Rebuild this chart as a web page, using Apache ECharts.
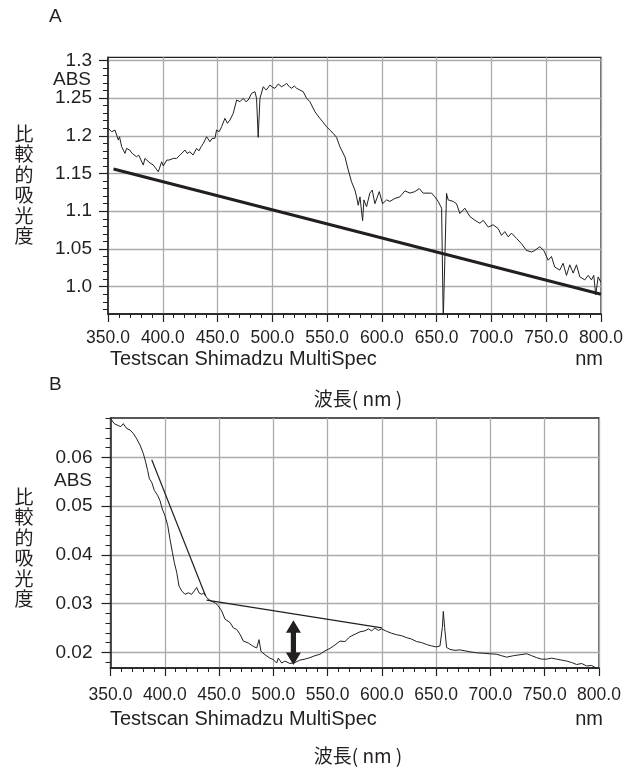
<!DOCTYPE html>
<html>
<head>
<meta charset="utf-8">
<script src="https://cdn.jsdelivr.net/npm/echarts@6/dist/echarts.min.js"></script>
<style>
html,body{margin:0;padding:0;background:#fff;}
#c{width:633px;height:767px;}
</style>
</head>
<body>
<div id="c"></div>
<script>
// ---------- Panel A data ----------
const aWl = [350.3,353.3,355.0,356.4,359.4,360.5,362.5,364.0,365.5,367.0,369.8,372.0,373.1,376.0,378.0,379.2,382.2,383.7,385.3,388.3,389.8,391.4,393.0,395.9,399.0,400.5,402.0,403.6,405.7,409.6,412.6,415.7,417.5,420.3,422.3,424.8,427.6,430.9,433.0,435.0,437.0,440.0,443.1,445.0,447.6,449.1,451.5,453.7,456.7,459.0,461.3,464.3,467.4,470.4,473.4,476.0,478.0,481.1,484.1,485.6,487.1,488.7,491.7,494.5,497.8,500.5,502.4,505.4,508.5,511.0,513.0,515.5,517.6,520.0,522.2,525.2,528.2,531.3,534.3,538.9,543.4,546.0,549.5,552.5,555.6,558.6,561.7,566.3,569.3,572.3,575.4,576.9,578.4,580.0,582.4,583.6,586.0,589.0,591.2,593.6,597.6,600.6,604.3,607.3,611.9,616.4,621.0,625.6,630.1,634.1,637.7,645.3,648.4,651.4,654.5,656.0,657.5,659.0,660.5,665.1,668.1,671.2,675.7,680.3,684.9,689.4,692.5,697.0,701.6,706.1,709.2,712.2,715.3,718.3,722.9,727.4,732.0,736.6,739.6,744.1,747.8,751.8,754.8,757.8,762.4,765.4,768.5,771.5,774.6,777.6,780.7,785.2,788.3,791.3,793.4,795.2,797.4,799.8];
const aAbs = [1.2098,1.2053,1.2076,1.2076,1.1943,1.1987,1.1854,1.1810,1.1767,1.1833,1.1810,1.1767,1.1780,1.1722,1.1744,1.1722,1.1612,1.1700,1.1680,1.1640,1.1660,1.1612,1.1589,1.1523,1.1655,1.1600,1.1589,1.1678,1.1678,1.1700,1.1700,1.1744,1.1722,1.1811,1.1766,1.1788,1.1744,1.1833,1.1800,1.1855,1.1899,1.1987,1.1921,1.1966,1.1966,1.2076,1.2054,1.2120,1.2231,1.2165,1.2208,1.2297,1.2474,1.2451,1.2496,1.2451,1.2474,1.2562,1.2584,1.2496,1.1979,1.2496,1.2650,1.2606,1.2672,1.2640,1.2629,1.2686,1.2650,1.2672,1.2695,1.2650,1.2629,1.2660,1.2629,1.2606,1.2584,1.2496,1.2451,1.2318,1.2231,1.2186,1.2120,1.2076,1.2032,1.1979,1.1854,1.1720,1.1546,1.1390,1.1280,1.1190,1.1080,1.1190,1.0874,1.1150,1.1060,1.1240,1.1280,1.1100,1.1260,1.1100,1.1150,1.1130,1.1170,1.1190,1.1270,1.1240,1.1260,1.1300,1.1240,1.1240,1.1190,1.1130,1.1040,0.9550,0.9550,1.1236,1.1150,1.1130,1.1100,1.0970,1.1040,1.0930,1.0880,1.0840,1.0880,1.0790,1.0820,1.0770,1.0680,1.0730,1.0660,1.0710,1.0640,1.0570,1.0480,1.0460,1.0480,1.0530,1.0480,1.0350,1.0400,1.0260,1.0220,1.0310,1.0150,1.0290,1.0180,1.0290,1.0130,1.0090,1.0150,1.0090,1.0150,0.9890,1.0130,1.0060];
const aBaseWl = [355, 800];
const aBaseAbs = [1.156, 0.990];
const aYMajor = [1.0, 1.05, 1.1, 1.15, 1.2, 1.25, 1.3];
const aYMinor = [0.97,0.98,0.99,1.0,1.01,1.02,1.03,1.04,1.05,1.06,1.07,1.08,1.09,1.1,1.11,1.12,1.13,1.14,1.15,1.16,1.17,1.18,1.19,1.2,1.21,1.22,1.23,1.24,1.25,1.26,1.27,1.28,1.29,1.3];

// ---------- Panel B data ----------
const bWl = [350.5,353.5,357.2,359.5,361.8,364.9,368.0,371.0,374.1,377.2,380.2,382.4,384.2,385.8,387.9,390.4,393.4,395.6,397.7,400.2,402.7,404.8,407.0,408.8,411.0,413.1,415.6,418.6,421.7,424.8,427.2,429.4,431.5,434.0,436.4,438.6,442.6,446.3,449.3,452.4,455.5,460.1,463.2,466.2,469.3,472.4,477.0,481.6,484.7,486.8,488.6,492.3,496.9,500.0,503.1,504.6,507.7,510.7,515.3,519.9,524.5,529.1,533.7,538.3,542.9,547.6,552.2,556.8,561.4,566.0,570.6,575.2,579.8,584.4,587.5,590.6,593.6,596.7,599.8,604.4,609.0,613.6,618.2,622.8,627.4,632.0,636.6,641.2,645.8,650.4,653.5,655.7,656.6,657.8,659.6,662.7,667.3,671.9,676.5,681.1,687.3,693.4,699.6,705.7,710.3,714.9,721.1,727.2,733.4,738.0,742.6,747.2,751.8,756.4,761.0,765.6,770.2,774.8,779.4,784.0,788.6,793.2,797.8,800.0];
const bAbs = [0.0678,0.0669,0.0665,0.0663,0.0669,0.0659,0.0656,0.0649,0.0638,0.0625,0.0608,0.0590,0.0573,0.0556,0.0549,0.0532,0.0522,0.0511,0.0494,0.0480,0.0460,0.0432,0.0405,0.0384,0.0364,0.0336,0.0326,0.0319,0.0322,0.0319,0.0326,0.0333,0.0322,0.0319,0.0322,0.0312,0.0305,0.0302,0.0295,0.0285,0.0268,0.0261,0.0250,0.0247,0.0237,0.0223,0.0219,0.0212,0.0209,0.0226,0.0202,0.0195,0.0188,0.0185,0.0178,0.0188,0.0178,0.0182,0.0177,0.0179,0.0184,0.0186,0.0189,0.0193,0.0196,0.0203,0.0208,0.0215,0.0223,0.0222,0.0232,0.0237,0.0242,0.0244,0.0248,0.0244,0.0250,0.0245,0.0248,0.0243,0.0239,0.0236,0.0234,0.0230,0.0227,0.0222,0.0220,0.0216,0.0213,0.0211,0.0213,0.0251,0.0284,0.0251,0.0210,0.0206,0.0204,0.0205,0.0203,0.0201,0.0199,0.0198,0.0197,0.0196,0.0193,0.0190,0.0193,0.0195,0.0197,0.0193,0.0189,0.0186,0.0186,0.0188,0.0186,0.0184,0.0182,0.0179,0.0175,0.0177,0.0172,0.0173,0.0167,0.0165];
const bTan1Wl = [388, 437.5];
const bTan1Abs = [0.0595, 0.0316];
const bTan2Wl = [438.5, 600];
const bTan2Abs = [0.0307, 0.0250];
const bArrowWl = [518.5];
const bArrowTop = [0.0266];
const bArrowBot = [0.0174];
const bYMajor = [0.02, 0.03, 0.04, 0.05, 0.06];
const bYMinor = [0.018,0.02,0.022,0.024,0.026,0.028,0.03,0.032,0.034,0.036,0.038,0.04,0.042,0.044,0.046,0.048,0.05,0.052,0.054,0.056,0.058,0.06,0.062,0.064,0.066,0.068];

const xTicks = [350, 400, 450, 500, 550, 600, 650, 700, 750, 800];

// ---------- helpers ----------
const INK = '#231f20';
const GRIDC = '#ababab';
const zip = (a, b) => a.map((v, i) => [v, b[i]]);

function xAxisFor(gridIndex, margin) {
  return {
    type: 'value', gridIndex, min: xTicks[0], max: xTicks[xTicks.length - 1], interval: 50,
    axisLine: { show: true, onZero: false, lineStyle: { color: INK, width: 1.5 } },
    axisTick: { show: true, length: 8, lineStyle: { color: INK, width: 1.2 } },
    minorTick: { show: true, splitNumber: 5, length: 4, lineStyle: { color: INK, width: 1 } },
    axisLabel: {
      margin, color: INK, fontSize: 17.5,
      fontFamily: '"Liberation Sans", Arial, sans-serif',
      formatter: v => v.toFixed(1)
    },
    splitLine: { show: true, lineStyle: { color: GRIDC, width: 1.3 } },
    minorSplitLine: { show: false }
  };
}

function yMain(gridIndex, min, max, major, fmt, margin, splitNumber) {
  return {
    type: 'value', gridIndex, min, max, position: 'left', splitNumber,
    axisLine: { show: true, onZero: false, lineStyle: { color: INK, width: 1.5 } },
    axisTick: { show: true, length: 9, customValues: major, lineStyle: { color: INK, width: 1.2 } },
    axisLabel: {
      customValues: major, margin, color: INK, fontSize: 19,
      fontFamily: '"Liberation Sans", Arial, sans-serif', formatter: fmt
    },
    splitLine: { show: true, lineStyle: { color: GRIDC, width: 1.3 } }
  };
}

function yMinor(gridIndex, min, max, minor) {
  return {
    type: 'value', gridIndex, min, max, position: 'left', offset: 0,
    axisLine: { show: false },
    axisTick: { show: true, length: 5, customValues: minor, lineStyle: { color: INK, width: 1 } },
    axisLabel: { show: false },
    splitLine: { show: false }
  };
}

const lineSeries = (xi, yi, data, width) => ({
  type: 'line', xAxisIndex: xi, yAxisIndex: yi, data, showSymbol: false, symbol: 'none',
  clip: true, lineStyle: { color: INK, width }, z: 5, animation: false
});

const textEl = (text, x, y, opts = {}) => ({
  type: 'text', x, y, silent: true,
  style: Object.assign({
    text, fill: INK, fontSize: 20, fontFamily: '"Liberation Sans", Arial, sans-serif',
    align: 'left', verticalAlign: 'middle'
  }, opts)
});

const cjk = '"Noto Sans CJK JP", "Noto Sans CJK SC", sans-serif';

const chart = echarts.init(document.getElementById('c'), null, { renderer: 'canvas' });
chart.setOption({
  animation: false,
  backgroundColor: '#ffffff',
  grid: [
    { left: 108, top: 57.3, right: 32, bottom: 453, show: true, borderColor: INK, borderWidth: 1.3, backgroundColor: 'transparent' },
    { left: 110.5, top: 418, right: 34, bottom: 99, show: true, borderColor: INK, borderWidth: 1.3, backgroundColor: 'transparent' }
  ],
  xAxis: [xAxisFor(0, 15), xAxisFor(1, 18)],
  yAxis: [
    yMain(0, 0.9638, 1.304, aYMajor, v => (v === 1 ? '1.0' : String(v)), 16, 7),
    yMinor(0, 0.9638, 1.304, aYMinor),
    yMain(1, 0.01678, 0.06806, bYMajor, v => v.toFixed(2), 18, 5),
    yMinor(1, 0.01678, 0.06806, bYMinor)
  ],
  series: [
    lineSeries(0, 0, zip(aWl, aAbs), 1),
    lineSeries(0, 0, zip(aBaseWl, aBaseAbs), 3),
    lineSeries(1, 2, zip(bWl, bAbs), 1),
    lineSeries(1, 2, zip(bTan1Wl, bTan1Abs), 1.2),
    lineSeries(1, 2, zip(bTan2Wl, bTan2Abs), 1.2),
    {
      type: 'custom', xAxisIndex: 1, yAxisIndex: 2, z: 6,
      data: bArrowWl.map((w, i) => [w, bArrowTop[i], bArrowBot[i]]),
      renderItem(params, api) {
        const t = api.coord([api.value(0), api.value(1)]);
        const b = api.coord([api.value(0), api.value(2)]);
        const x = t[0], hw = 7.5, hl = 12.5, sw = 2.6;
        const pts = [
          [x, t[1]], [x + hw, t[1] + hl], [x + sw, t[1] + hl], [x + sw, b[1] - hl],
          [x + hw, b[1] - hl], [x, b[1]], [x - hw, b[1] - hl], [x - sw, b[1] - hl],
          [x - sw, t[1] + hl], [x - hw, t[1] + hl]
        ];
        return { type: 'polygon', shape: { points: pts }, style: { fill: INK } };
      }
    }
  ],
  graphic: [
    textEl('A', 49, 17, { fontSize: 19 }),
    textEl('ABS', 91, 80, { align: 'right', fontSize: 19 }),
    textEl('比\n較\n的\n吸\n光\n度', 24, 185, { align: 'center', fontSize: 19, lineHeight: 20.5, fontFamily: cjk }),
    textEl('Testscan Shimadzu MultiSpec', 110, 359),
    textEl('nm', 603, 359, { align: 'right' }),
    textEl('波長( nm )', 358, 399, { align: 'center', fontSize: 19, fontFamily: cjk }),
    textEl('B', 49, 385, { fontSize: 19 }),
    textEl('ABS', 92, 481, { align: 'right', fontSize: 19 }),
    textEl('比\n較\n的\n吸\n光\n度', 24, 548, { align: 'center', fontSize: 19, lineHeight: 20.5, fontFamily: cjk }),
    textEl('Testscan Shimadzu MultiSpec', 110, 719),
    textEl('nm', 603, 719, { align: 'right' }),
    textEl('波長( nm )', 358, 756, { align: 'center', fontSize: 19, fontFamily: cjk })
  ]
});
</script>
</body>
</html>
